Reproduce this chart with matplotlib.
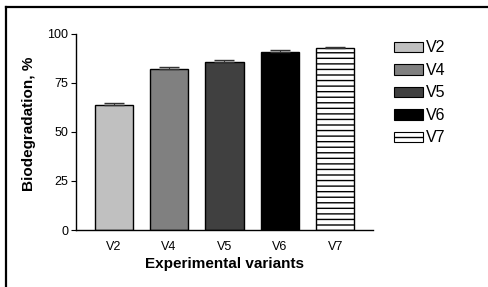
import numpy as np
import matplotlib.pyplot as plt
from matplotlib.patches import Patch
from matplotlib.lines import Line2D

plt.rcParams['font.family'] = ['Liberation Sans', 'DejaVu Sans']
plt.rcParams['hatch.linewidth'] = 1.0

# data
variants = ['V2', 'V4', 'V5', 'V6', 'V7']
biodeg = [63.7, 82.2, 85.6, 90.7, 92.9]
err = [1.2, 1.1, 1.1, 1.0, 0.4]
colours = ['#c0c0c0', '#808080', '#404040', '#000000', '#ffffff']
hatches = ['', '', '', '', '---']

fig = plt.figure(figsize=(4.89, 2.87), dpi=100)
ax = fig.add_axes([0.1554, 0.1986, 0.607, 0.683])

x = np.arange(len(variants))
for i in range(len(variants)):
    ax.bar(x[i], biodeg[i], width=0.69, color=colours[i], edgecolor='black',
           linewidth=1.0, hatch=hatches[i], label=variants[i])
ax.errorbar(x, biodeg, yerr=[np.zeros(len(err)), err], fmt='none',
            ecolor='#333333', elinewidth=0.8, capsize=7, capthick=1.0)

ax.set_xlim(-0.68, 4.68)
ax.set_ylim(0, 100)
ax.set_yticks([0, 25, 50, 75, 100])
ax.set_xticks(x)
ax.set_xticklabels(variants)
ax.tick_params(axis='x', length=0, pad=8, labelsize=9)
ax.tick_params(axis='y', length=3.6, width=0.8, pad=2, labelsize=9)
ax.spines['top'].set_visible(False)
ax.spines['right'].set_visible(False)
ax.spines['left'].set_linewidth(1.0)
ax.spines['bottom'].set_linewidth(1.0)

ax.set_xlabel('Experimental variants', fontsize=11, fontweight='bold', labelpad=3)
ax.set_ylabel('Biodegradation, %', fontsize=11, fontweight='bold')
ax.yaxis.set_label_coords(-0.135, 0.54)

handles = [Patch(facecolor=colours[i], edgecolor='black', linewidth=0.8,
                 hatch=('--' if hatches[i] else '')) for i in range(len(variants))]
fig.legend(handles, variants, loc='upper left', bbox_to_anchor=(0.79, 0.887),
           frameon=False, fontsize=11.5, handlelength=1.8, handleheight=0.63,
           handletextpad=0.2, labelspacing=0.47, borderpad=0)

# frame lines on the left and top of the figure
fig.add_artist(Line2D([0.012, 0.012], [0.0, 0.974], color='black', linewidth=1.6,
                      transform=fig.transFigure))
fig.add_artist(Line2D([0.012, 1.0], [0.974, 0.974], color='black', linewidth=1.6,
                      transform=fig.transFigure))

fig.savefig('out.png', dpi=100)
